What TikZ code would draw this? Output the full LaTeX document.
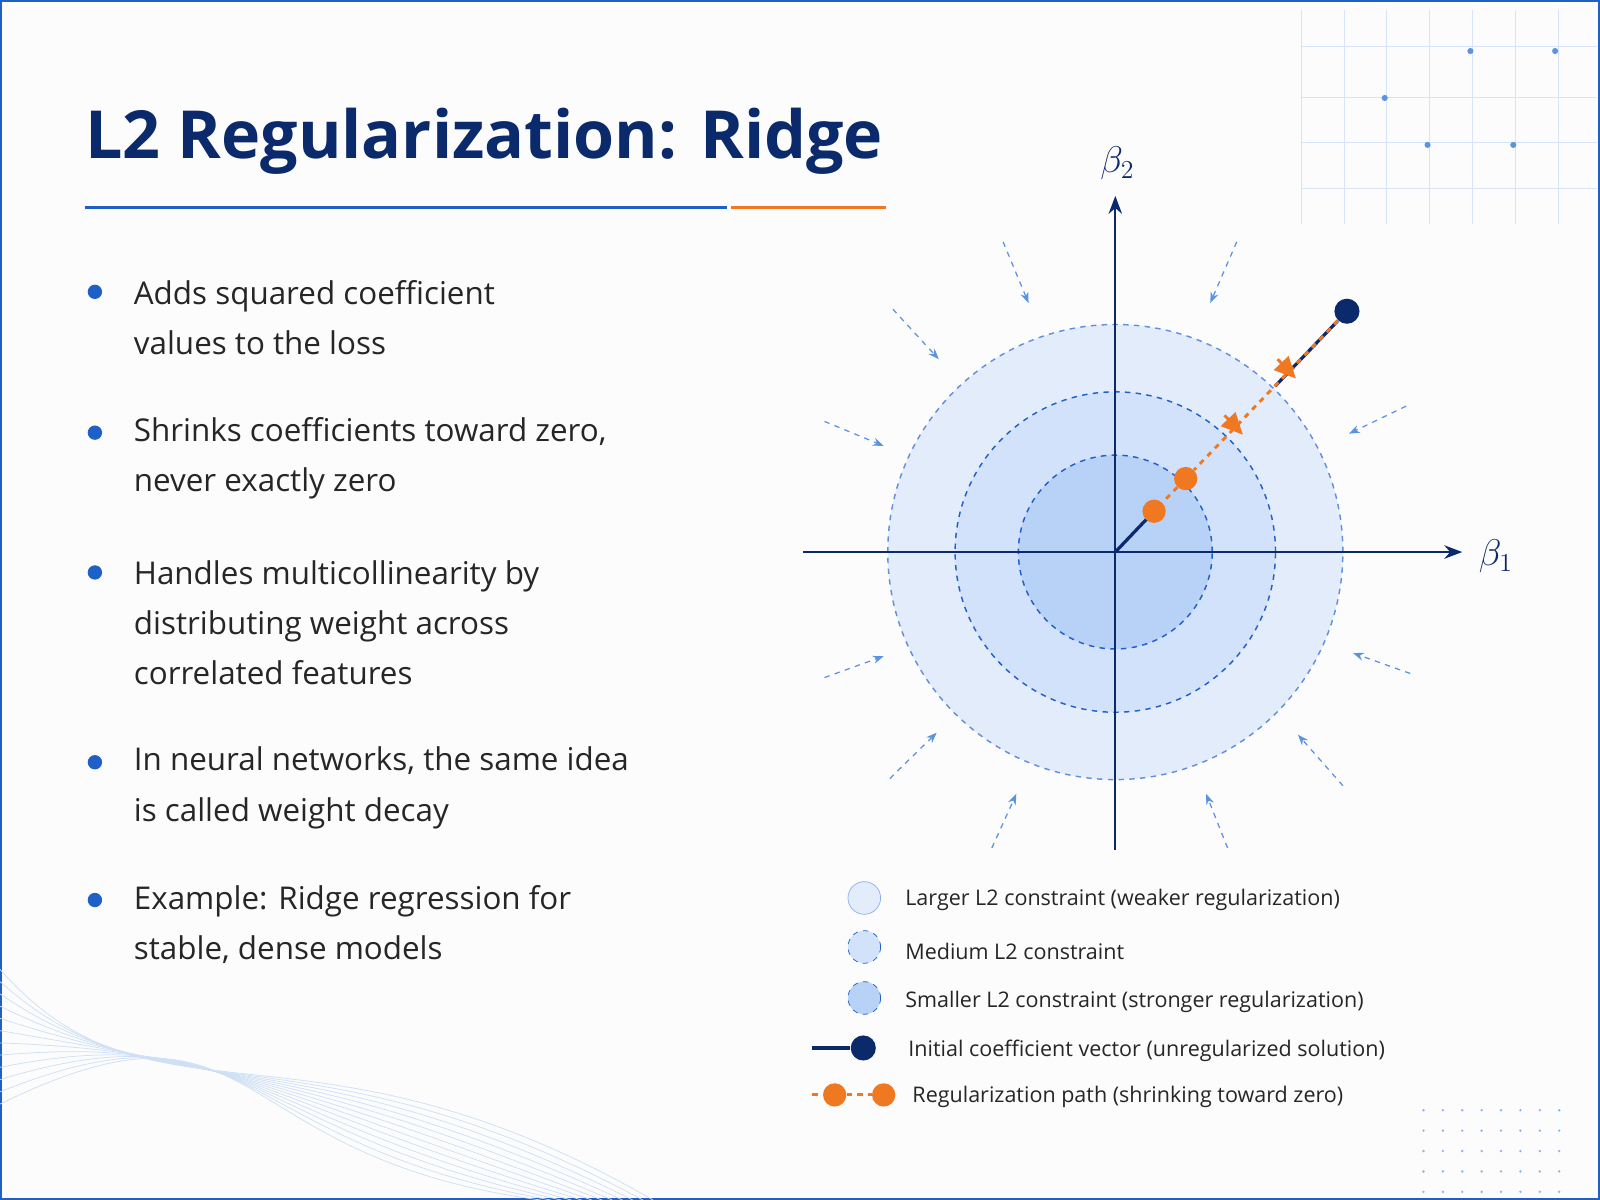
\documentclass[tikz,border=0pt]{standalone}
\usepackage{fontspec}
\setmainfont{Open Sans}
\usetikzlibrary{arrows.meta,positioning}
\definecolor{navy}{HTML}{0B2A6B}
\definecolor{ridgeblue}{HTML}{1F5FC8}
\definecolor{lightblue}{HTML}{5B93E0}
\definecolor{ridgeorange}{HTML}{F07820}
\definecolor{fillA}{HTML}{E2ECFB}
\definecolor{fillB}{HTML}{D2E2FA}
\definecolor{fillC}{HTML}{B8D1F6}
\tikzset{
  bullet/.style={anchor=west, font=\fontsize{17.5}{28}\selectfont, text=black!85, align=left},
  dot/.style={circle, fill=ridgeblue, inner sep=0pt, minimum size=8pt},
  legtext/.style={anchor=west, font=\fontsize{12}{14}\selectfont, text=black!85},
  ring/.style={circle, draw=ridgeblue, dashed, line width=0.8pt},
  push/.style={-{Stealth[length=6pt]}, draw=lightblue, dashed, line width=0.7pt},
}
\begin{document}
\begin{tikzpicture}[x=0.02cm, y=-0.02cm]
  \useasboundingbox (0,0) rectangle (1568,1176);
  \fill[black!1] (0,0) rectangle (1568,1176);
  \draw[ridgeblue, line width=1.5pt] (1,1) rectangle (1567,1175);
  % decorations
  \foreach \gx in {1275,1317,...,1560} \draw[lightblue!25] (\gx,10) -- (\gx,220);
  \foreach \gy in {45,95,140,185} \draw[lightblue!25] (1275,\gy) -- (1565,\gy);
  \foreach \px/\py in {1357/96,1441/50,1524/50,1399/142,1483/142}
    \fill[lightblue] (\px,\py) circle (3);
  \foreach \px in {1395,1414,...,1530}
    \foreach \py in {1088,1108,...,1170}
      \fill[lightblue!70] (\px,\py) circle (1.3);
  \foreach \k in {0,...,11}
    \draw[lightblue!30] (0,{950+12*\k}) .. controls ({150+10*\k},{1120-15*\k}) and ({300-8*\k},{980+14*\k}) .. ({640-10*\k},1176);
  % title
  \node[anchor=base west, font=\fontsize{37}{44}\selectfont\bfseries, text=navy, inner sep=0pt] (title) at (83,155) {L2 Regularization: Ridge};
  \draw[ridgeblue, line width=1.6pt] (83,203) -- (712,203);
  \draw[ridgeorange, line width=1.6pt] (716,203) -- (868,203);
  % bullets
  \foreach \by/\txt [count=\i] in {
    311/{Adds squared coefficient\\values to the loss},
    449/{Shrinks coefficients toward zero,\\never exactly zero},
    610/{Handles multicollinearity by\\distributing weight across\\correlated features},
    772/{In neural networks, the same idea\\is called weight decay},
    906/{Example: Ridge regression for\\stable, dense models}} {
    \node[bullet] (b\i) at (125,\by) {\txt};
  }
  \foreach \dy in {286,424,561,747,882} \node[dot] at (93,\dy) {};
  % constraint regions
  \coordinate (O) at (1093,541);
  \node[ring, fill=fillA, draw=ridgeblue!70, minimum size=446*0.02cm] (large) at (O) {};
  \node[ring, fill=fillB, minimum size=314*0.02cm] (medium) at (O) {};
  \node[ring, fill=fillC, minimum size=190*0.02cm] (small) at (O) {};
  % axes
  \coordinate (xl) at (787,541); \coordinate (xr) at (1433,541);
  \coordinate (yb) at (1093,833); \coordinate (yt) at (1093,192);
  \draw[navy, line width=1.3pt, -{Stealth[length=10pt]}] (xl) -- (xr);
  \draw[navy, line width=1.3pt, -{Stealth[length=10pt]}] (yb) -- (yt);
  \node[text=navy, font=\fontsize{20}{24}\selectfont] (b1) at (1466,545) {$\beta_1$};
  \node[text=navy, font=\fontsize{20}{24}\selectfont] (b2) at (1095,160) {$\beta_2$};
  % shrinking arrows
  \foreach \sx/\sy/\ex/\ey in {983/237/1008/297, 1212/237/1186/297, 875/303/920/352,
    1378/398/1322/425, 808/413/866/437, 808/664/866/643, 1382/660/1326/640,
    872/763/918/718, 1316/770/1272/720, 972/831/996/778, 1203/831/1182/778}
    \draw[push] (\sx,\sy) -- (\ex,\ey);
  % coefficient vector and path
  \node[circle, fill=navy, inner sep=0pt, minimum size=14pt] (init) at (1320,305) {};
  \coordinate (mid) at (1250,378);
  \draw[navy, line width=1.8pt] (O) -- (1131,501);
  \draw[navy, line width=1.8pt] (init) -- (mid);
  \node[circle, fill=ridgeorange, inner sep=0pt, minimum size=13pt] (p1) at (1162,469) {};
  \node[circle, fill=ridgeorange, inner sep=0pt, minimum size=13pt] (p2) at (1131,501) {};
  \draw[ridgeorange, dashed, line width=1.6pt] (init) -- (p1) -- (p2);
  \draw[ridgeorange, line width=1.6pt, -{Triangle[length=12pt,width=11pt]}] (1252,352) -- (1270,371);
  \draw[ridgeorange, line width=1.6pt, -{Triangle[length=12pt,width=11pt]}] (1200,407) -- (1218,426);
  % legend
  \node[circle, fill=fillA, draw=lightblue!70, minimum size=32*0.02cm] (l1) at (847,880) {};
  \node[circle, fill=fillB, draw=ridgeblue, dashed, minimum size=32*0.02cm] (l2) at (847,928) {};
  \node[circle, fill=fillC, draw=ridgeblue, dashed, minimum size=32*0.02cm] (l3) at (847,978) {};
  \node[legtext] (t1) at (881,882) {Larger L2 constraint (weaker regularization)};
  \node[legtext] (t2) at (881,932) {Medium L2 constraint};
  \node[legtext] (t3) at (881,982) {Smaller L2 constraint (stronger regularization)};
  \coordinate (l4s) at (796,1027);
  \node[circle, fill=navy, inner sep=0pt, minimum size=14pt] (l4) at (846,1027) {};
  \draw[navy, line width=1.8pt] (l4s) -- (l4);
  \node[legtext] (t4) at (884,1030) {Initial coefficient vector (unregularized solution)};
  \coordinate (l5s) at (796,1073);
  \node[circle, fill=ridgeorange, inner sep=0pt, minimum size=13pt] (l5a) at (818,1073) {};
  \node[circle, fill=ridgeorange, inner sep=0pt, minimum size=13pt] (l5b) at (866,1073) {};
  \draw[ridgeorange, dashed, line width=1.6pt] (l5s) -- (l5a) -- (l5b);
  \node[legtext] (t5) at (888,1075) {Regularization path (shrinking toward zero)};
\end{tikzpicture}
\end{document}
